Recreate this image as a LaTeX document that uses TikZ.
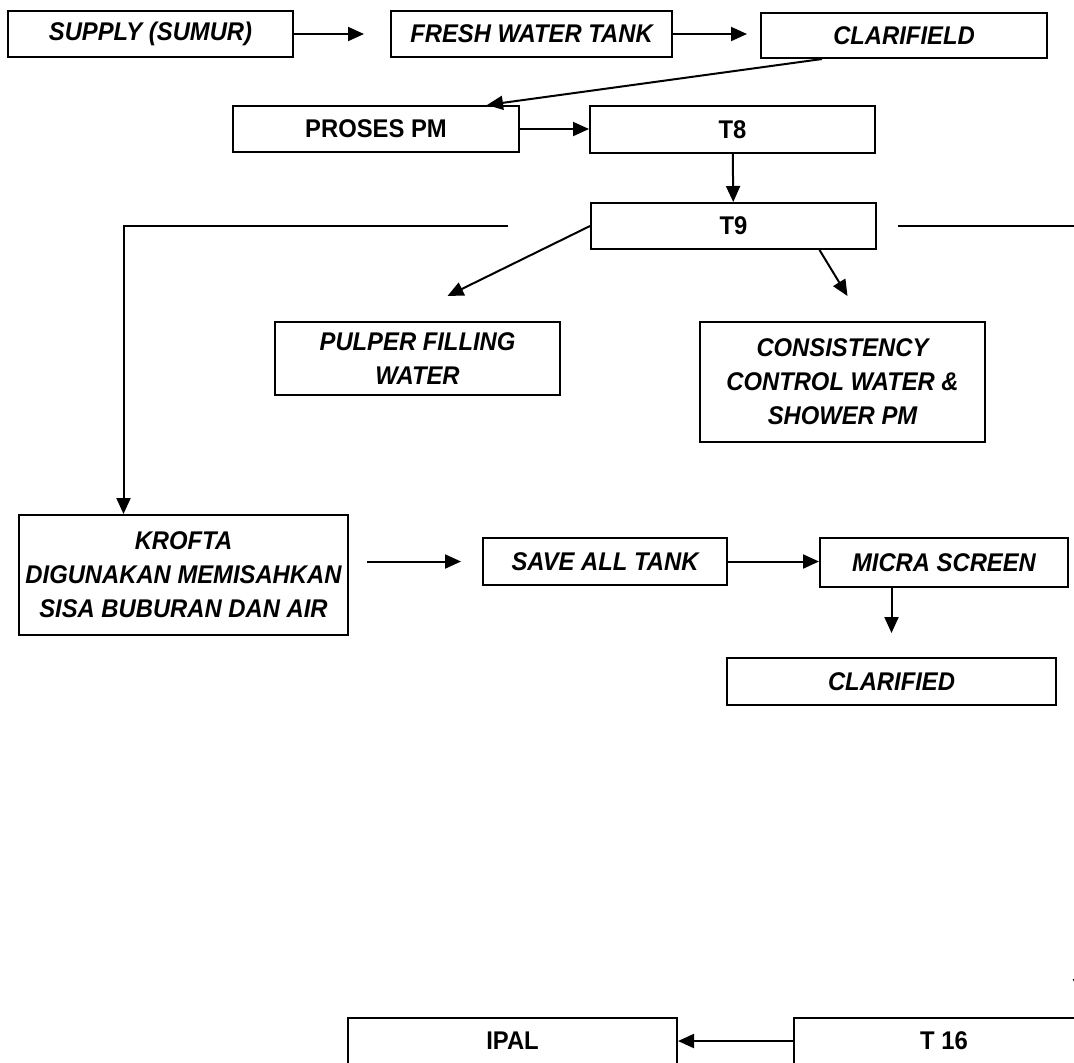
\documentclass[tikz,border=0pt]{standalone}
\usepackage{fontspec}
\setmainfont{Liberation Sans}[FakeStretch=0.93]
\usepackage{tikz}
\usetikzlibrary{arrows.meta,calc}

\begin{document}
\begin{tikzpicture}[
    x=0.5pt, y=-0.5pt,
    box/.style={draw, line width=1pt, inner sep=0pt, align=center,
        font=\fontsize{12.8pt}{17pt}\selectfont\bfseries},
    ibox/.style={box, font=\fontsize{12.8pt}{17pt}\selectfont\bfseries\itshape},
    arr/.style={-{Triangle[length=8pt,width=7pt]}, line width=1pt}
]
    \useasboundingbox (0,0) rectangle (1074,1062);
    \clip (0,0) rectangle (1074,1062);

    % Top row
    \node[ibox, minimum width=142.5pt, minimum height=23pt] (supply) at (150.5,34) {SUPPLY (SUMUR)};
    \node[ibox, minimum width=140.5pt, minimum height=23pt] (fresh) at (531.5,34) {FRESH WATER TANK};
    \node[ibox, minimum width=143pt, minimum height=22.5pt] (clarifield) at (904,35.5) {CLARIFIELD};

    % PM and tanks
    \node[box, minimum width=143pt, minimum height=23pt] (proses) at (376,129) {PROSES PM};
    \node[box, minimum width=142.5pt, minimum height=23.5pt] (t8) at (732.5,129.5) {T8};
    \node[box, minimum width=142.5pt, minimum height=23pt] (t9) at (733.5,226) {T9};

    \node[ibox, minimum width=142.5pt, minimum height=36.5pt] (pulper) at (417.5,358.5) {PULPER FILLING\\WATER};
    \node[ibox, minimum width=142.5pt, minimum height=60pt] (consist) at (842.5,382) {CONSISTENCY\\CONTROL WATER \&\\SHOWER PM};

    % Recovery
    \node[ibox, minimum width=164.5pt, minimum height=60pt] (krofta) at (183.5,575) {KROFTA\\DIGUNAKAN MEMISAHKAN\\SISA BUBURAN DAN AIR};
    \node[ibox, minimum width=122pt, minimum height=23.5pt] (saveall) at (605,561.5) {SAVE ALL TANK};
    \node[ibox, minimum width=124pt, minimum height=24.5pt] (micra) at (944,562.5) {MICRA SCREEN};
    \node[ibox, minimum width=164.5pt, minimum height=23.5pt] (clarified) at (891.5,681.5) {CLARIFIED};

    % Bottom
    \node[box, minimum width=164.5pt, minimum height=23pt] (ipal) at (512.5,1041) {IPAL};
    \node[box, minimum width=150pt, minimum height=23pt] (t16) at (944,1041) {T 16};
    \coordinate (edge) at (1080,995);

    % Connectors
    \draw[arr, shorten >=13pt] (supply.east) -- (fresh.west);
    \draw[arr, shorten >=6.5pt] (fresh.east) -- (clarifield.west |- fresh.east);
    \draw[arr] ([xshift=-41pt]clarifield.south) -- ([xshift=55.5pt]proses.north);
    \draw[arr] (proses.east) -- (t8.west |- proses.east);
    \draw[arr] (t8) -- (t9);
    \draw[arr] (t9.west) -- ([xshift=15pt,yshift=12.5pt]pulper.north);
    \draw[arr] ([xshift=43pt]t9.south) -- ([xshift=2.5pt,yshift=12.5pt]consist.north);
    \draw[arr] ([xshift=-41pt]t9.west) -| ([xshift=-30pt]krofta.north);
    \draw[arr] ([xshift=10.5pt]t9.east) -| (edge);
    \draw[arr, shorten <=9pt, shorten >=10.5pt] (krofta.east |- saveall.west) -- (saveall.west);
    \draw[arr] (saveall.east) -- (micra.west |- saveall.east);
    \draw[arr, shorten >=12pt] (clarified.north |- micra.south) -- (clarified.north);
    \draw[arr] (t16.west) -- (ipal.east);
\end{tikzpicture}
\end{document}
